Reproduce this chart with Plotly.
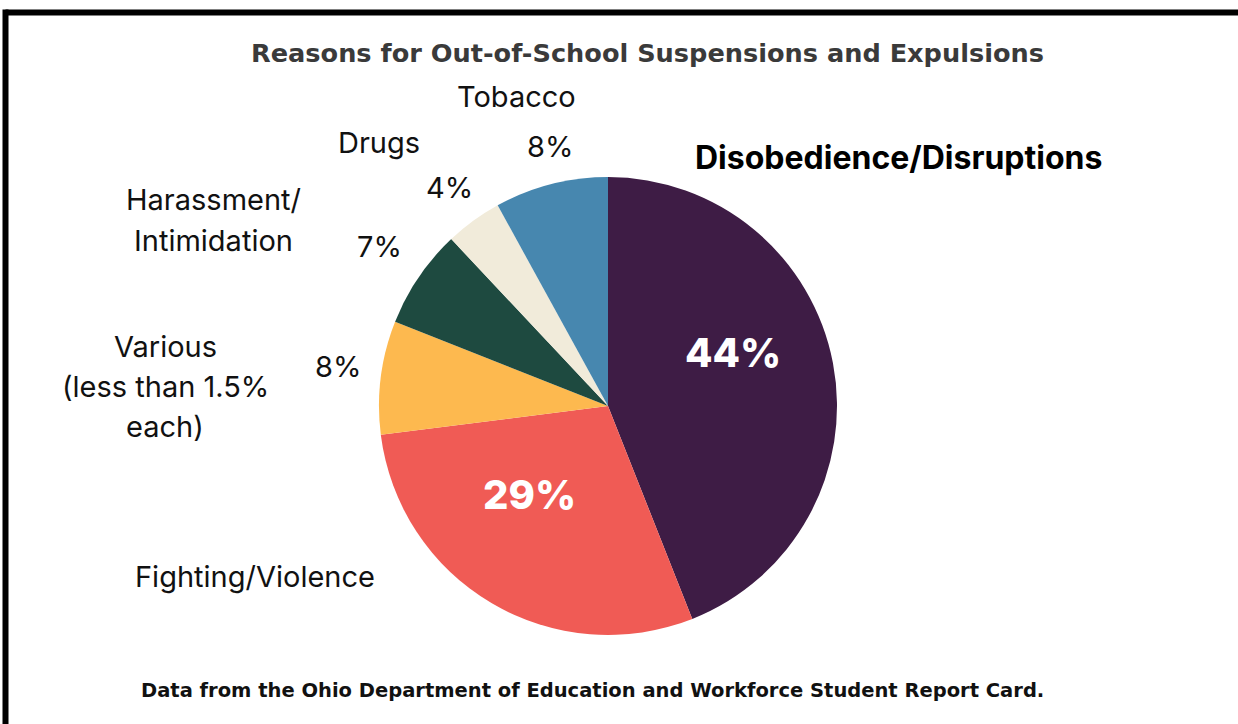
import plotly.graph_objects as go

# Share of out-of-school suspensions and expulsions by reason (percent)
categories = [
    "Disobedience/Disruptions",
    "Fighting/Violence",
    "Various (less than 1.5% each)",
    "Harassment/Intimidation",
    "Drugs",
    "Tobacco",
]
values = [44, 29, 8, 7, 4, 8]
colors = ["#3E1C45", "#F05B55", "#FDB94F", "#1E4A40", "#F1EBDA", "#4787AF"]

W, H = 1238, 724
CX, CY, R = 608, 406, 229  # pie centre and radius in pixels


def px(x):
    return x / W


def py(y):
    return 1 - y / H


fig = go.Figure(
    go.Pie(
        labels=categories,
        values=values,
        marker=dict(colors=colors, line=dict(width=0)),
        sort=False,
        direction="clockwise",
        rotation=0,
        textinfo="none",
        hoverinfo="label+percent",
        showlegend=False,
        domain=dict(x=[px(CX - R), px(CX + R)], y=[py(CY + R), py(CY - R)]),
    )
)

LABEL_FONT = dict(family="Inter, Roboto, sans-serif", size=29, color="#111111")
annotations = []


def text(x, y, s, font, **kw):
    annotations.append(
        dict(x=px(x), y=py(y), xref="paper", yref="paper", text=s,
             showarrow=False, xanchor="center", yanchor="middle", font=font, **kw)
    )


# category names, one line per entry, and where each block and its value sit
name_lines = {
    "Tobacco": (["Tobacco"], 516, 97, 40, (550, 147)),
    "Drugs": (["Drugs"], 379, 142, 40, (449, 187)),
    "Harassment/Intimidation": (["Harassment/", "Intimidation"], 213, 200, 40, (379, 247)),
    "Various (less than 1.5% each)": (["Various", "(less than 1.5%", "each)"], 165, 346, 40, (338, 367)),
    "Fighting/Violence": (["Fighting/Violence"], 255, 576, 40, None),
}

for cat, val in zip(categories, values):
    if cat in name_lines:
        lines, x, y, step, vpos = name_lines[cat]
        for i, line in enumerate(lines):
            text(x, y + i * step, line, LABEL_FONT)
        if vpos is not None:
            text(vpos[0], vpos[1], f"{val}%", LABEL_FONT)

BIG_WHITE = dict(family="Inter, Roboto, sans-serif", size=40, color="white", weight=800)
text(898, 158, "Disobedience/Disruptions",
     dict(family="Inter, Roboto, sans-serif", size=32, color="#000000", weight=700))
text(733, 352, f"{values[0]}%", BIG_WHITE)
text(529, 495, f"{values[1]}%", BIG_WHITE)

# chart title and source note
text(647, 53, "Reasons for Out-of-School Suspensions and Expulsions",
     dict(family="DejaVu Sans, sans-serif", size=25.6, color="#3A3A3A", weight=700))
text(592, 690, "Data from the Ohio Department of Education and Workforce Student Report Card.",
     dict(family="DejaVu Sans, sans-serif", size=19.5, color="#111111", weight=600))

fig.update_layout(
    width=W,
    height=H,
    margin=dict(l=0, r=0, t=0, b=0),
    paper_bgcolor="white",
    plot_bgcolor="white",
    annotations=annotations,
    shapes=[
        # heavy frame along the top and left edges
        dict(type="line", xref="paper", yref="paper",
             x0=px(5.5), x1=px(W + 20), y0=py(12.5), y1=py(12.5),
             line=dict(color="black", width=6)),
        dict(type="line", xref="paper", yref="paper",
             x0=px(5.5), x1=px(5.5), y0=py(9.5), y1=py(H + 20),
             line=dict(color="black", width=6)),
    ],
)

fig.write_html("out.html")
